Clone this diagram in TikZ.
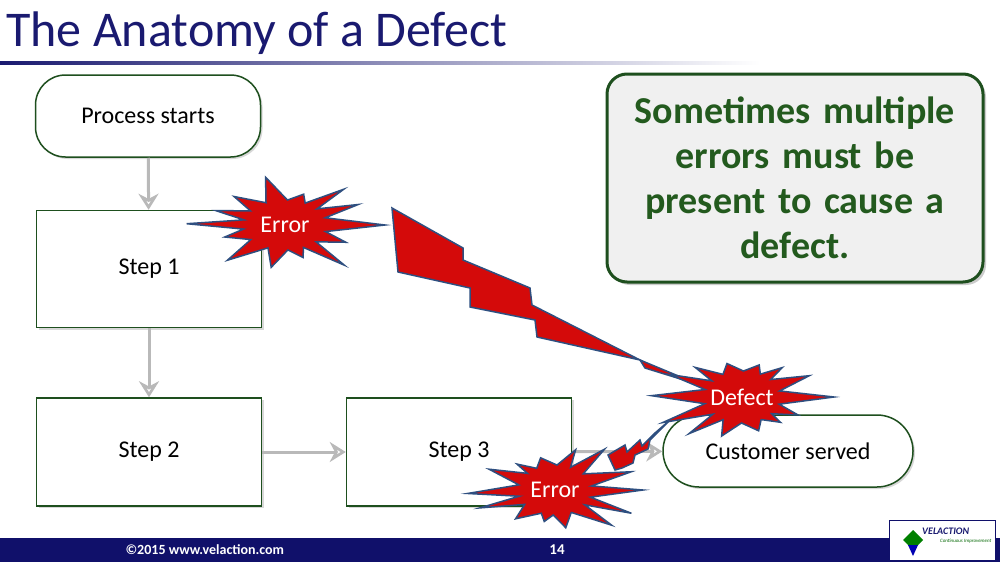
\documentclass[tikz,border=0pt]{standalone}
\usepackage{fontspec}
\setmainfont{Carlito}
\usetikzlibrary{arrows.meta,shadows}
\definecolor{navy}{HTML}{1A1A70}
\definecolor{bar}{HTML}{10106A}
\definecolor{dgreen}{HTML}{1E4F1E}
\definecolor{tgreen}{HTML}{235A1E}
\definecolor{bred}{HTML}{D40A0A}
\definecolor{bblue}{HTML}{2E4F80}
\tikzset{
  box/.style={draw=dgreen, line width=1.5pt, fill=white, minimum width=225pt, inner sep=0pt, font=\fontsize{24}{28}\selectfont,
    drop shadow={shadow xshift=2pt,shadow yshift=-2pt,opacity=0.3}},
  term/.style={box, rounded corners=30pt},
  flow/.style={draw=gray!55, line width=3pt, -{Stealth[length=16pt,width=20pt,open,fill=white]}},
  burst/.style={fill=bred, draw=bblue, line width=1.5pt, line join=miter},
  btext/.style={text=white, font=\fontsize{24}{28}\selectfont},
}
\newcommand{\myburst}[4]{% center, rx, ry, seed
  \filldraw[burst, shift={#1}] (0:#2 and #3)
    \foreach \i in {1,...,27}{ -- ({\i*360/28+4*sin(\i*#4)}:{ifthenelse(isodd(\i),0.42*#2,(0.82+0.18*sin(\i*#4*3))*#2)} and {ifthenelse(isodd(\i),0.5*#3,(0.82+0.18*sin(\i*#4*3))*#3)})} -- cycle;}
\begin{document}
\begin{tikzpicture}[x=1pt,y=-1pt]
\useasboundingbox (0,0) rectangle (1000,562);
\fill[white] (0,0) rectangle (1000,562);
% title
\node[anchor=base west, text=navy, font=\fontsize{50}{54}\selectfont, inner sep=0pt] (title) at (6,46) {The Anatomy of a Defect};
\shade[left color=navy, right color=white] (0,61) rectangle (760,64);
% nodes
\node[term, minimum height=82pt] (start) at (148,116) {Process starts};
\node[box, minimum height=117pt] (s1) at (149,269) {Step 1};
\node[box, minimum height=108pt] (s2) at (149,452) {Step 2};
\node[box, minimum height=108pt] (s3) at (459,452) {Step 3};
\node[term, minimum width=250pt, minimum height=72pt, rounded corners=36pt] (cust) at (788,451) {Customer served};
\node[draw=dgreen, line width=3pt, rounded corners=20pt, fill=gray!12, minimum width=376pt, minimum height=208pt,
  text width=340pt, align=center, text=tgreen, font=\bfseries\fontsize{38}{45}\selectfont,
  drop shadow={shadow xshift=3pt,shadow yshift=-3pt,opacity=0.4}] (call) at (795,178)
  {Sometimes multiple\\ errors must be\\ present to cause a\\ defect.};
% flow arrows
\draw[flow] (start) -- (s1);
\draw[flow] (s1) -- (s2);
\draw[flow] (s2) -- (s3);
\draw[flow] (s3) -- (cust);
% lightning bolts
\filldraw[burst] (392,208) -- (463,248) -- (463,260) -- (530,288) -- (532,305) -- (640,360) -- (537,337) -- (535,320) -- (470,307) -- (470,288) -- (398,272) -- cycle;
\filldraw[burst] (640,360) -- (700,385) -- (645,368) -- cycle;
\filldraw[burst] (608,455) -- (625,445) -- (627,452) -- (640,440) -- (642,446) -- (655,433) -- (670,420) -- (650,440) -- (648,449) -- (635,455) -- (633,463) -- (622,468) -- (615,470) -- cycle;
% bursts
\myburst{(285,225)}{100}{50}{37}
\node[btext] (e1) at (285,225) {Error};
\myburst{(742,397)}{92}{52}{53}
\node[btext] (def) at (742,397) {Defect};
\myburst{(555,490)}{88}{50}{71}
\node[btext] (e2) at (555,490) {Error};
% bottom bar
\fill[bar] (0,538) rectangle (1000,562);
\node[text=white, font=\bfseries\fontsize{14}{16}\selectfont, anchor=west] (copy) at (122,550) {©2015 www.velaction.com};
\node[text=white, font=\bfseries\fontsize{15}{17}\selectfont] (pg) at (557,550) {14};
\node[draw=bar, line width=1pt, fill=white, minimum width=106pt, minimum height=40pt, inner sep=1pt] (logo) at (942,540) {};
\fill[green!50!black] (903,540) -- (913,530) -- (923,540) -- (913,550) -- cycle;
\fill[blue!70!black] (908,545) -- (918,545) -- (913,556) -- cycle;
\node[anchor=west, text=navy, font=\bfseries\itshape\fontsize{10}{11}\selectfont, inner sep=0pt] (lt) at (922,531) {VELACTION};
\node[anchor=west, text=green!40!black, font=\itshape\fontsize{5}{6}\selectfont, inner sep=0pt] (ls) at (940,541) {Continuous Improvement};
\end{tikzpicture}
\end{document}
